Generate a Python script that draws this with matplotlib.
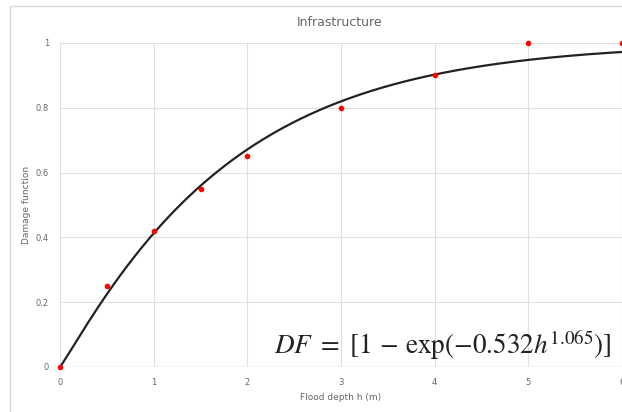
import numpy as np
import matplotlib.pyplot as plt
from matplotlib.patches import Rectangle

# observed damage values
depth = [0, 0.5, 1, 1.5, 2, 3, 4, 5, 6]
damage = [0, 0.25, 0.42, 0.55, 0.65, 0.80, 0.90, 1.0, 1.0]

# fitted curve parameters (from the equation on the chart)
a = 0.532
b = 1.065

x_ticks = [0, 1, 2, 3, 4, 5, 6]
y_ticks = [0, 0.2, 0.4, 0.6, 0.8, 1.0]
y_labels = ['0', '0.2', '0.4', '0.6', '0.8', '1']

fig = plt.figure(figsize=(6.22, 4.12), dpi=100)
fig.patches.append(Rectangle((10 / 622, -0.05), 1.2, 1 - 6 / 412 + 0.05,
                             transform=fig.transFigure, fill=False,
                             edgecolor='#d9d9d9', lw=1.0))
ax = fig.add_axes([60 / 622, 1 - 367 / 412, 562 / 622, (367 - 43) / 412])

h = np.linspace(0, 6, 300)
ax.plot(h, 1 - np.exp(-a * h ** b), color='#222222', lw=1.6, zorder=3)
ax.plot(depth, damage, 'o', color='#ff0000', ms=3.0, zorder=4, clip_on=False)

ax.set_xlim(0, 6)
ax.set_ylim(0, 1)
ax.set_xticks(x_ticks)
ax.set_yticks(y_ticks)
ax.set_yticklabels(y_labels)
ax.grid(True, color='#e0e0e0', lw=0.8)
ax.set_axisbelow(True)
for s in ax.spines.values():
    s.set_visible(False)
ax.axhline(0, color='#d9d9d9', lw=1.0, zorder=1)
ax.tick_params(length=0, labelsize=6, labelcolor='#666666', pad=8)

ax.set_xlabel('Flood depth h (m)', fontsize=6.5, color='#666666', labelpad=4)
ax.set_ylabel('Damage function', fontsize=6.5, color='#666666', labelpad=3)
fig.text(340 / 622, 1 - 23 / 412, 'Infrastructure', ha='center', va='center',
         fontsize=9, color='#666666')

ax.text(612 / 622, 1 - 345 / 412,
        r'$DF\ =\ [1 \,-\, \exp(-0.532h^{1.065})]$',
        transform=fig.transFigure, ha='right', va='center', fontsize=19.5,
        math_fontfamily='stix', color='#222222')

fig.savefig('out.png', dpi=100)
